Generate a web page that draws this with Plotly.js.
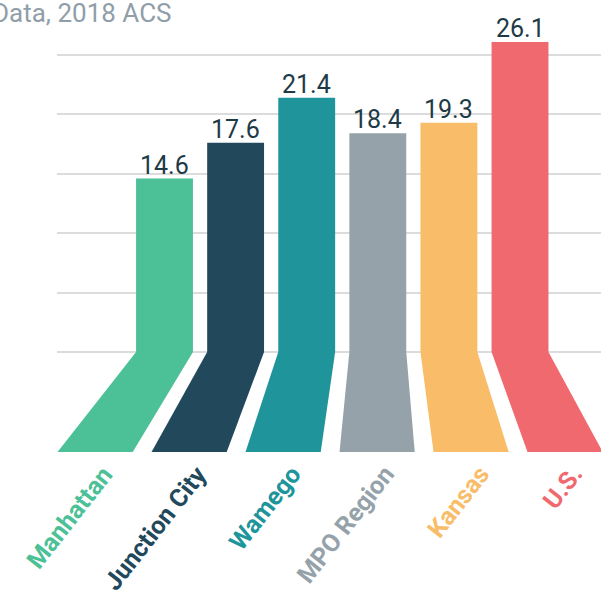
<!DOCTYPE html>
<html>
<head>
<meta charset="utf-8">
<script src="https://cdn.plot.ly/plotly-3.0.1.min.js"></script>
<style>html,body{margin:0;padding:0;background:#fff;}#chart{width:601px;height:597px;}</style>
</head>
<body>
<div id="chart"></div>
<script>
// ---- data ----
var categories = ["Manhattan", "Junction City", "Wamego", "MPO Region", "Kansas", "U.S."];
var values = [14.6, 17.6, 21.4, 18.4, 19.3, 26.1];
var colors = ["#4CC096", "#22495B", "#20949B", "#95A2AA", "#F9BC69", "#F0696E"];
var gridValues = [0, 5, 10, 15, 20, 25];
var sourceText = "Data, 2018 ACS";

// ---- perspective floor settings (style) ----
var barWidth = 0.8;
var floorDepth = -8.42;   // floor bottom in y units
var vanishX = 3.03;       // x where floor edges stay vertical
var spread = 1.322;       // bottom/top scale of floor
function floorX(x) { return vanishX + (x - vanishX) * spread; }

var idx = categories.map(function (_, i) { return i; });

var traces = [];
// floor trapezoids
idx.forEach(function (i) {
  var l = i - barWidth / 2, r = i + barWidth / 2;
  traces.push({
    type: "scatter", mode: "lines", fill: "toself",
    x: [l, r, floorX(r), floorX(l), l],
    y: [0, 0, floorDepth, floorDepth, 0],
    line: {width: 0, color: colors[i]},
    fillcolor: colors[i],
    hoverinfo: "skip", showlegend: false
  });
});
// bars
traces.push({
  type: "bar", x: idx, y: values, width: barWidth, base: 0,
  marker: {color: colors, line: {width: 0}},
  hoverinfo: "skip", showlegend: false
});

var annotations = [];
idx.forEach(function (i) {
  annotations.push({
    x: i, y: values[i], xref: "x", yref: "y",
    text: values[i].toFixed(1), showarrow: false,
    xanchor: "center", yanchor: "bottom", yshift: -3,
    font: {family: "Roboto", size: 25, color: "#1d3a46"}
  });
  annotations.push({
    x: floorX(i), y: floorDepth, xref: "x", yref: "y",
    text: "<b>" + categories[i] + "</b>", showarrow: false,
    textangle: -52, xanchor: "right", yanchor: "top",
    xshift: 26, yshift: -6,
    font: {family: "Roboto", size: 25, color: colors[i]}
  });
});
annotations.push({
  x: 0.2114, y: 1.0403, xref: "paper", yref: "paper",
  text: sourceText, showarrow: false, xanchor: "right", yanchor: "middle",
  xshift: 2,
  font: {family: "Roboto", size: 26, color: "#8f9ea8"}
});

var layout = {
  width: 601, height: 597,
  margin: {l: 57, r: 0, t: 30, b: 145, pad: 0},
  paper_bgcolor: "#ffffff", plot_bgcolor: "#ffffff",
  xaxis: {range: [-1.512, 6.139], showgrid: false, zeroline: false,
          showticklabels: false, ticks: "", fixedrange: true},
  yaxis: {range: [floorDepth, 27.1], tickmode: "array", tickvals: gridValues,
          showgrid: true, gridcolor: "#dcdcdc", gridwidth: 2,
          zeroline: false, showticklabels: false, ticks: "", fixedrange: true},
  annotations: annotations,
  showlegend: false
};

Plotly.newPlot("chart", traces, layout, {displayModeBar: false, staticPlot: true});
</script>
</body>
</html>
